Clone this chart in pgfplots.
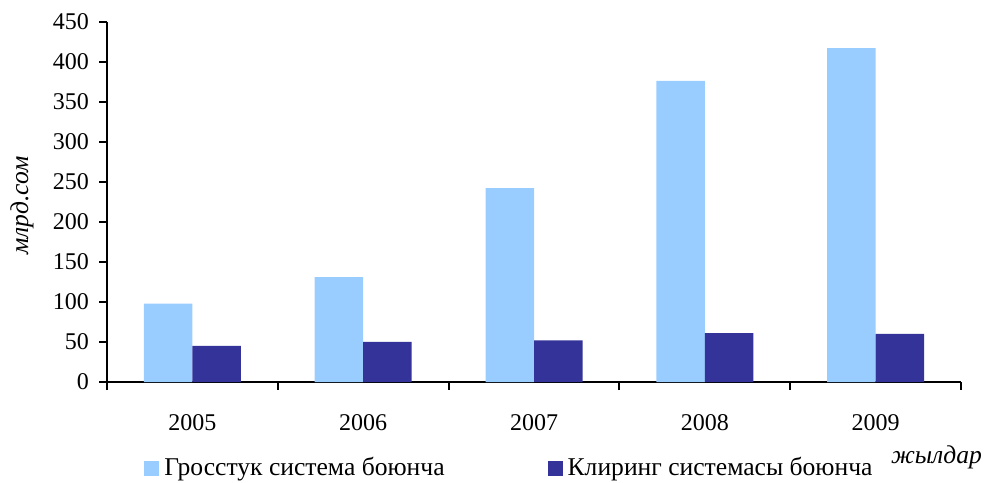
\documentclass[border=0pt]{standalone}
\usepackage{fontspec}
\setmainfont{Liberation Serif}
\usepackage{pgfplots}
\pgfplotsset{compat=1.18}
\definecolor{lightbar}{HTML}{99CCFF}
\definecolor{darkbar}{HTML}{333399}
\newcommand{\cf}{\fontsize{12bp}{14bp}\selectfont\rmfamily}
\newcommand{\lf}{\fontsize{12.8bp}{15bp}\selectfont\rmfamily}
\begin{document}
\begin{tikzpicture}
\path[use as bounding box] (-53.5bp,-50.5bp) rectangle (439.5bp,191bp);
\begin{axis}[
  at={(0,0)}, anchor=south west,
  scale only axis,
  width=427bp, height=180.15bp,
  ybar=0pt, bar width=24.25bp,
  xmin=-0.5, xmax=4.5,
  ymin=0, ymax=450,
  axis x line*=bottom, axis y line*=left,
  axis line style={line width=1bp, black, -},
  xtick={0,1,2,3,4},
  xticklabels={2005,2006,2007,2008,2009},
  minor xtick={-0.5,0.5,1.5,2.5,3.5,4.5},
  major x tick style={draw=none},
  minor x tick style={line width=1bp, black},
  ytick={0,50,100,150,200,250,300,350,400,450},
  yticklabels={0,50,100,150,200,250,300,350,400,450},
  y tick style={line width=1bp, black},
  tick align=outside,
  major tick length=4bp, minor tick length=4bp,
  ticklabel style={font=\cf},
  yticklabel style={xshift=-1.5bp},
  xticklabel style={yshift=-8.5bp},
  ylabel={млрд.сом},
  ylabel style={font=\itshape\lf, at={(axis description cs:-0.0995,0.49)}, anchor=center},
  xlabel={жылдар},
  xlabel style={font=\itshape\lf, at={(axis description cs:0.9713,-0.208)}, anchor=center},
  legend columns=2,
  legend style={at={(axis description cs:0.0433,-0.2387)}, anchor=west, draw=none, fill=none,
    inner sep=0pt, font=\lf, nodes={inner sep=2.5bp},
    /tikz/every even column/.append style={column sep=49bp}},
  legend image code/.code={\fill[#1] (0bp,-3.75bp) rectangle (7.5bp,3.75bp);},
]
\addplot[fill=lightbar, draw=none] coordinates {(0,98) (1,131) (2,242) (3,376) (4,417)};
\addplot[fill=darkbar, draw=none] coordinates {(0,45) (1,50) (2,52) (3,61) (4,60)};
\legend{Гросстук система боюнча, Клиринг системасы боюнча}
\end{axis}
\end{tikzpicture}
\end{document}
